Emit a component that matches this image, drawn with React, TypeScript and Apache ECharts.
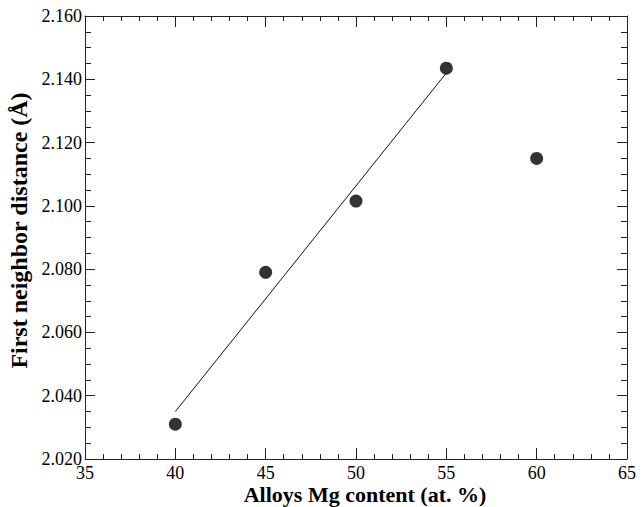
import React, { useEffect, useRef } from "react";
import * as echarts from "echarts";

const mgContent = [40, 45, 50, 55, 60];
const neighborDistance = [2.031, 2.079, 2.1015, 2.1435, 2.115];
const fitX = [40, 55];
const fitY = [2.035, 2.142];
const xTicks = { min: 35, max: 65, interval: 5 };
const yTicks = { min: 2.02, max: 2.16, interval: 0.02 };

const FONT = "Liberation Serif, Times New Roman, serif";

export default function App() {
  const ref = useRef<HTMLDivElement>(null);
  useEffect(() => {
    if (!ref.current) return;
    const chart = echarts.init(ref.current, undefined, { renderer: "svg" });
    const axisLine = { show: true, lineStyle: { color: "#222", width: 1 } };
    const tickText = { fontFamily: FONT, fontSize: 18, color: "#000", fontWeight: "normal" };
    const baseX = {
      type: "value" as const,
      min: xTicks.min,
      max: xTicks.max,
      interval: xTicks.interval,
      axisLine,
      splitLine: { show: false },
      axisTick: { show: true, inside: true, length: 11, lineStyle: { color: "#222" } },
      minorTick: { show: true, splitNumber: 5, length: 5, lineStyle: { color: "#222" } },
      minorSplitLine: { show: false },
    };
    const baseY = {
      type: "value" as const,
      min: yTicks.min,
      max: yTicks.max,
      interval: yTicks.interval,
      axisLine,
      splitLine: { show: false },
      axisTick: { show: true, inside: true, length: 10, lineStyle: { color: "#222" } },
      minorTick: { show: true, splitNumber: 4, length: 6, lineStyle: { color: "#222" } },
      minorSplitLine: { show: false },
    };
    chart.setOption({
      animation: false,
      backgroundColor: "#fff",
      textStyle: { fontFamily: FONT, color: "#111" },
      grid: {
        left: 85,
        right: 16,
        top: 16,
        bottom: 48,
        containLabel: false,
        outerBoundsMode: "none",
      },
      xAxis: [
        {
          ...baseX,
          position: "bottom",
          name: "Alloys Mg content (at. %)",
          nameLocation: "middle",
          nameGap: 24,
          nameMoveOverlap: false,
          nameTextStyle: {
            fontFamily: FONT,
            fontWeight: "bold",
            fontSize: 22,
            color: "#000",
            padding: [0, 0, 0, 18],
          },
          axisLabel: {
            ...tickText,
            margin: 5,
            formatter: (v: number) => "{t|" + String(v) + "}",
            rich: { t: tickText },
          },
        },
        { ...baseX, position: "top", axisLabel: { show: false } },
      ],
      yAxis: [
        {
          ...baseY,
          position: "left",
          name: "First neighbor distance (Å)",
          nameLocation: "middle",
          nameGap: 54,
          nameTextStyle: {
            fontFamily: FONT,
            fontWeight: "bold",
            fontSize: 24,
            color: "#000",
            padding: [0, 0, 0, 14],
          },
          axisLabel: {
            ...tickText,
            margin: 3,
            formatter: (v: number) => "{t|" + v.toFixed(3) + "}",
            rich: { t: tickText },
          },
        },
        { ...baseY, position: "right", axisLabel: { show: false } },
      ],
      series: [
        {
          type: "line",
          data: fitX.map((x, i) => [x, fitY[i]]),
          symbol: "none",
          lineStyle: { color: "#111", width: 1 },
          silent: true,
        },
        {
          type: "scatter",
          data: mgContent.map((x, i) => [x, neighborDistance[i]]),
          symbol: "circle",
          symbolSize: 13,
          itemStyle: { color: "#000" },
        },
      ],
    });
    return () => chart.dispose();
  }, []);
  return (
    <div
      ref={ref}
      style={{ position: "fixed", left: 0, top: 0, width: 643, height: 507, background: "#fff" }}
    />
  );
}
